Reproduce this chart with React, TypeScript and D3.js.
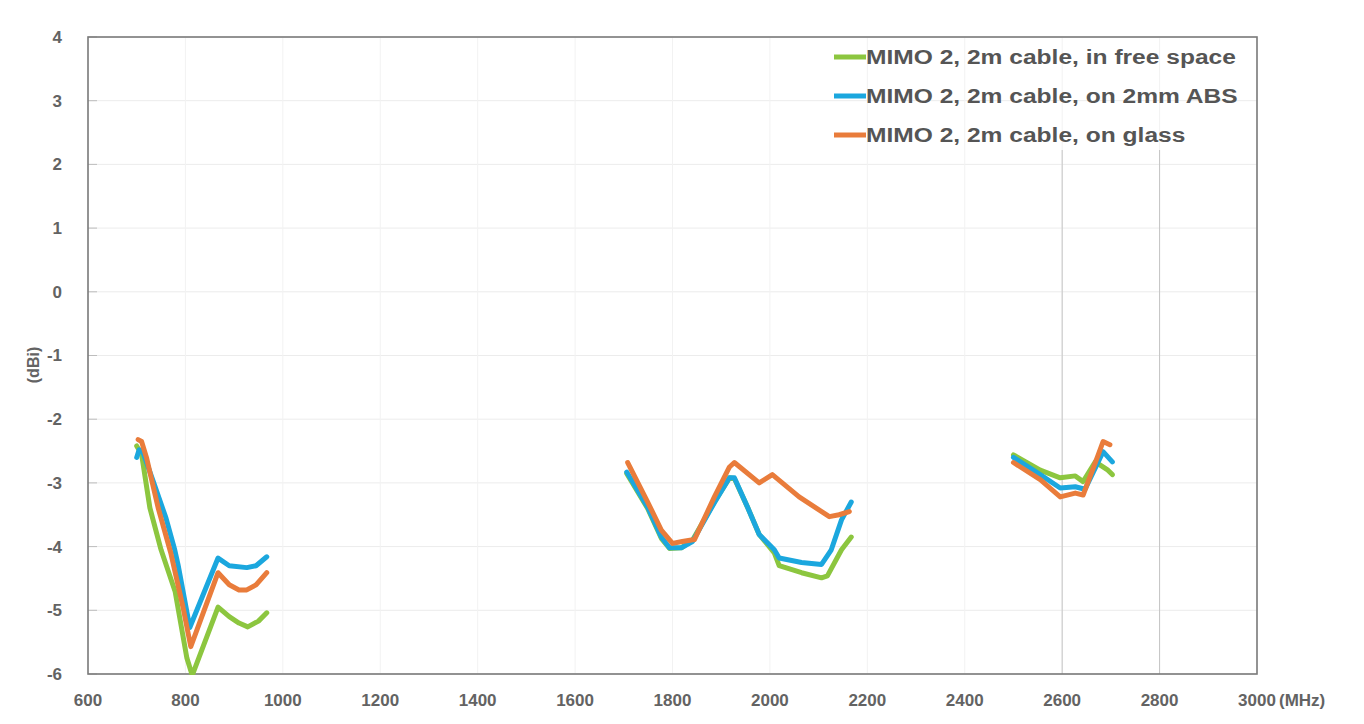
import React from "react";
import * as d3 from "d3";

// ---- data (MHz, dBi) ----
const freeSpaceLow: [number, number][] = [[700,-2.42],[710,-2.55],[727,-3.39],[750,-4.05],[779,-4.71],[803,-5.75],[814,-6.02],[867,-4.95],[890,-5.1],[910,-5.2],[928,-5.26],[950,-5.17],[967,-5.04]];
const freeSpaceMid: [number, number][] = [[1706,-2.85],[1749,-3.4],[1777,-3.87],[1794,-4.03],[1818,-4.02],[1841,-3.9],[1886,-3.3],[1917,-2.92],[1927,-2.93],[1954,-3.38],[1978,-3.81],[2009,-4.1],[2019,-4.3],[2065,-4.41],[2106,-4.49],[2118,-4.46],[2147,-4.05],[2167,-3.85]];
const freeSpaceHigh: [number, number][] = [[2500,-2.56],[2555,-2.8],[2596,-2.92],[2627,-2.89],[2643,-2.98],[2668,-2.67],[2694,-2.8],[2703,-2.87]];

const absLow: [number, number][] = [[700,-2.6],[705,-2.48],[712,-2.5],[735,-3.0],[760,-3.55],[778,-4.05],[785,-4.29],[809,-5.27],[867,-4.18],[890,-4.3],[926,-4.33],[945,-4.3],[967,-4.16]];
const absMid: [number, number][] = [[1706,-2.83],[1749,-3.38],[1777,-3.85],[1794,-4.02],[1818,-4.02],[1841,-3.92],[1886,-3.31],[1917,-2.92],[1927,-2.92],[1954,-3.38],[1978,-3.81],[2009,-4.05],[2019,-4.18],[2065,-4.25],[2106,-4.28],[2126,-4.05],[2147,-3.58],[2167,-3.3]];
const absHigh: [number, number][] = [[2500,-2.6],[2555,-2.87],[2596,-3.08],[2627,-3.06],[2647,-3.1],[2674,-2.67],[2684,-2.51],[2703,-2.67]];

const glassLow: [number, number][] = [[703,-2.32],[710,-2.35],[720,-2.6],[744,-3.39],[770,-4.1],[795,-4.95],[811,-5.57],[867,-4.41],[890,-4.6],[910,-4.68],[926,-4.68],[945,-4.6],[967,-4.41]];
const glassMid: [number, number][] = [[1708,-2.68],[1749,-3.3],[1777,-3.74],[1800,-3.95],[1820,-3.92],[1845,-3.89],[1886,-3.22],[1917,-2.75],[1927,-2.68],[1978,-3.0],[2005,-2.87],[2060,-3.22],[2122,-3.53],[2142,-3.5],[2163,-3.45]];
const glassHigh: [number, number][] = [[2500,-2.68],[2555,-2.95],[2596,-3.22],[2627,-3.16],[2643,-3.19],[2674,-2.56],[2684,-2.35],[2698,-2.4]];

const seriesNames = [
  "MIMO 2, 2m cable, in free space",
  "MIMO 2, 2m cable, on 2mm ABS",
  "MIMO 2, 2m cable, on glass",
];
const seriesColors = ["#8cc63f", "#1ba7de", "#e97c3b"];
const seriesBands = [
  [freeSpaceLow, freeSpaceMid, freeSpaceHigh],
  [absLow, absMid, absHigh],
  [glassLow, glassMid, glassHigh],
];

const xTicks = [600, 800, 1000, 1200, 1400, 1600, 1800, 2000, 2200, 2400, 2600, 2800, 3000];
const yTicks = [4, 3, 2, 1, 0, -1, -2, -3, -4, -5, -6];
const darkXGrid = [2600, 2800];

export default function App() {
  const W = 1364, H = 724;
  const left = 88, right = 1257, top = 37, bottom = 674;
  const x = d3.scaleLinear().domain([600, 3000]).range([left, right]);
  const y = d3.scaleLinear().domain([-6, 4]).range([bottom, top]);
  const line = d3.line<[number, number]>().x(d => x(d[0])).y(d => y(d[1]));
  const font = "'Liberation Sans', Arial, sans-serif";
  const txt = "#636363";

  return (
    <svg width={W} height={H} style={{ position: "absolute", left: 0, top: 0, background: "#fff" }}>
      <defs>
        <clipPath id="plot">
          <rect x={left} y={top} width={right - left} height={bottom - top + 1} />
        </clipPath>
      </defs>
      {/* grid */}
      {yTicks.map(t => (
        <line key={"gy" + t} x1={left} x2={right} y1={y(t)} y2={y(t)} stroke="#ececec" strokeWidth={1} />
      ))}
      {xTicks.map(t => (
        <line key={"gx" + t} x1={x(t)} x2={x(t)} y1={top} y2={bottom} stroke="#f2f2f2" strokeWidth={1} />
      ))}
      {darkXGrid.map(t => (
        <line key={"dg" + t} x1={x(t)} x2={x(t)} y1={150} y2={bottom} stroke="#c4c4c4" strokeWidth={1} />
      ))}
      {/* y tick marks */}
      {yTicks.map(t => (
        <line key={"ty" + t} x1={left} x2={left + 9} y1={y(t)} y2={y(t)} stroke="#bdbdbd" strokeWidth={1} />
      ))}
      {/* frame */}
      <rect x={left} y={top} width={right - left} height={bottom - top} fill="none" stroke="#7a7a7a" strokeWidth={1.6} />

      {/* series */}
      <g clipPath="url(#plot)">
        {seriesBands.map((bands, i) =>
          bands.map((b, j) => (
            <path key={i + "-" + j} d={line(b) || ""} fill="none" stroke={seriesColors[i]}
              strokeWidth={5} strokeLinejoin="round" strokeLinecap="round" />
          ))
        )}
      </g>

      {/* y labels */}
      {yTicks.map(t => (
        <text key={"ly" + t} x={62} y={y(t)} dy="0.35em" textAnchor="end" fontFamily={font}
          fontWeight="bold" fontSize={17} fill={txt}>{t}</text>
      ))}
      {/* x labels */}
      {xTicks.map(t => (
        <text key={"lx" + t} x={x(t)} y={700} dy="0.35em" textAnchor="middle" fontFamily={font}
          fontWeight="bold" fontSize={17} fill={txt}>{t}</text>
      ))}
      <text x={x(3000) + 22} y={700} dy="0.35em" textAnchor="start" fontFamily={font}
        fontWeight="bold" fontSize={17} fill={txt}>(MHz)</text>
      <text transform={`translate(33,365) rotate(-90)`} textAnchor="middle" dy="0.35em" fontFamily={font}
        fontWeight="bold" fontSize={16} fill={txt}>(dBi)</text>

      {/* legend */}
      {seriesNames.map((n, i) => (
        <g key={"lg" + i} transform={`translate(834,${57 + i * 39})`}>
          <line x1={0} x2={32} y1={0} y2={0} stroke={seriesColors[i]} strokeWidth={5} />
          <text transform="translate(32,0) scale(1.17,1)" x={0} y={0} dy="0.35em" fontFamily={font}
            fontWeight="bold" fontSize={21} fill="#555">{n}</text>
        </g>
      ))}
    </svg>
  );
}
